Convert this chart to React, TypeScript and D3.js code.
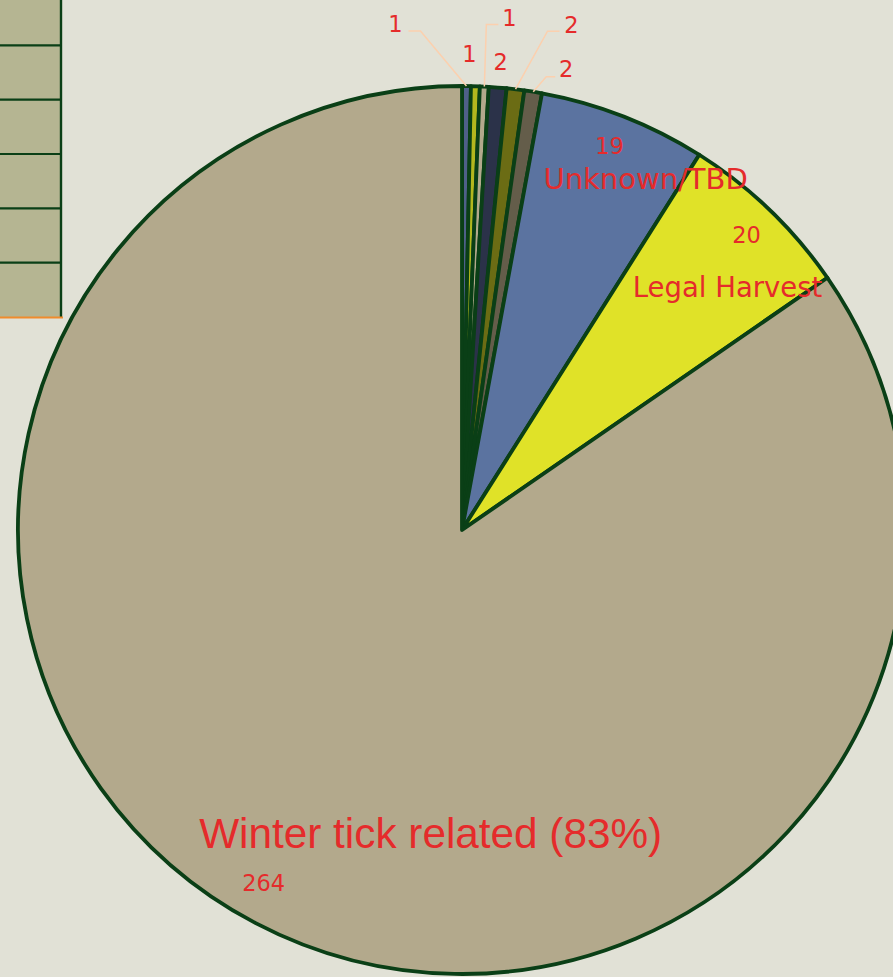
import React, { useEffect, useRef } from "react";
import * as d3 from "d3";

// slice order is clockwise from 12 o'clock
const categories = [
  "Other A",
  "Other B",
  "Other C",
  "Other D",
  "Other E",
  "Other F",
  "Unknown/TBD",
  "Legal Harvest",
  "Winter tick related",
];
const values = [1, 1, 1, 2, 2, 2, 19, 20, 264];
const sliceColors = [
  "#4f6089",
  "#b3b71e",
  "#b3a98c",
  "#2b3249",
  "#6b6c14",
  "#645d4a",
  "#5b73a0",
  "#e0e228",
  "#b3a98c",
];
// names drawn on the chart (others show the value only)
const nameLabels = ["", "", "", "", "", "", "Unknown/TBD", "Legal Harvest", "Winter tick related (83%)"];
const tableRows = [0, 1, 2, 3, 4, 5];

const W = 893;
const H = 977;
const BG = "#e1e1d6";
const EDGE = "#0a3f16";
const RED = "#e52b2b";

// label layout, offsets from the slice's outer arc midpoint
const layout = [
  { vx: -71, vy: -54, lead: [[-46, -55], [-58, -55]] },
  { vx: -6, vy: -24 },
  { vx: 25, vy: -61, lead: [[2, -62], [14, -62]] },
  { vx: 3, vy: -17 },
  { vx: 56, vy: -56, lead: [[32, -58], [44, -58]] },
  { vx: 33, vy: -15, lead: [[13, -15], [22, -15]] },
  { vx: -14, vy: 38, nx: 22, ny: 73, nsize: 29 },
  { vx: -23, vy: 33, nx: -42, ny: 87, nsize: 27.5 },
  { vx: 8, vy: -32, nx: 175, ny: -75, nsize: 42.3, nfont: "'Liberation Sans', Arial, sans-serif" },
];

export default function App() {
  const svgRef = useRef<SVGSVGElement>(null);

  useEffect(() => {
    if (!svgRef.current) return;
    const svg = d3.select(svgRef.current);
    svg.selectAll("*").remove();

    svg.append("rect").attr("width", W).attr("height", H).attr("fill", BG);

    // partial table on the left
    const rowScale = d3.scaleBand<number>().domain(tableRows).range([-9, 317]);
    const tbl = svg.append("g");
    tbl.append("rect").attr("x", 0).attr("y", 0).attr("width", 61).attr("height", 317).attr("fill", "#b5b592");
    tbl
      .selectAll("line.row")
      .data(tableRows.slice(1))
      .join("line")
      .attr("class", "row")
      .attr("x1", 0)
      .attr("x2", 62)
      .attr("y1", (d) => rowScale(d)!)
      .attr("y2", (d) => rowScale(d)!)
      .attr("stroke", EDGE)
      .attr("stroke-width", 2.2);
    tbl.append("line").attr("x1", 61).attr("x2", 61).attr("y1", 0).attr("y2", 317).attr("stroke", EDGE).attr("stroke-width", 2.4);
    tbl.append("line").attr("x1", 0).attr("x2", 63).attr("y1", 317.5).attr("y2", 317.5).attr("stroke", "#f08c2c").attr("stroke-width", 2);

    const cx = 462;
    const cy = 530;
    const R = 444;

    const pie = d3.pie<number>().sort(null).value((d) => d);
    const arcs = pie(values);
    const arc = d3.arc<d3.PieArcDatum<number>>().innerRadius(0).outerRadius(R);

    const g = svg.append("g").attr("transform", `translate(${cx},${cy})`);
    g.selectAll("path")
      .data(arcs)
      .join("path")
      .attr("d", arc)
      .attr("fill", (_, i) => sliceColors[i])
      .attr("stroke", EDGE)
      .attr("stroke-width", 3.8)
      .attr("stroke-linejoin", "round");

    const labels = g.append("g");
    arcs.forEach((a, i) => {
      const mid = (a.startAngle + a.endAngle) / 2;
      const px = R * Math.sin(mid);
      const py = -R * Math.cos(mid);
      const L = layout[i] as any;
      if (L.lead) {
        const pts: [number, number][] = [[px, py], ...L.lead.map((p: number[]) => [px + p[0], py + p[1]] as [number, number])];
        labels
          .append("path")
          .attr("d", d3.line()(pts))
          .attr("fill", "none")
          .attr("stroke", "#fcd0ae")
          .attr("stroke-width", 1.5);
      }
      labels
        .append("text")
        .attr("x", px + L.vx)
        .attr("y", py + L.vy)
        .attr("text-anchor", "middle")
        .attr("font-family", "'DejaVu Sans', Verdana, sans-serif")
        .attr("font-size", 22.5)
        .attr("fill", RED)
        .text(values[i]);
      if (nameLabels[i]) {
        labels
          .append("text")
          .attr("x", px + L.nx)
          .attr("y", py + L.ny)
          .attr("text-anchor", "middle")
          .attr("font-family", L.nfont || "'DejaVu Sans', Verdana, sans-serif")
          .attr("font-size", L.nsize)
          .attr("fill", RED)
          .text(nameLabels[i]);
      }
    });
  }, []);

  return (
    <svg
      ref={svgRef}
      width={W}
      height={H}
      style={{ position: "absolute", left: 0, top: 0, display: "block" }}
    />
  );
}
